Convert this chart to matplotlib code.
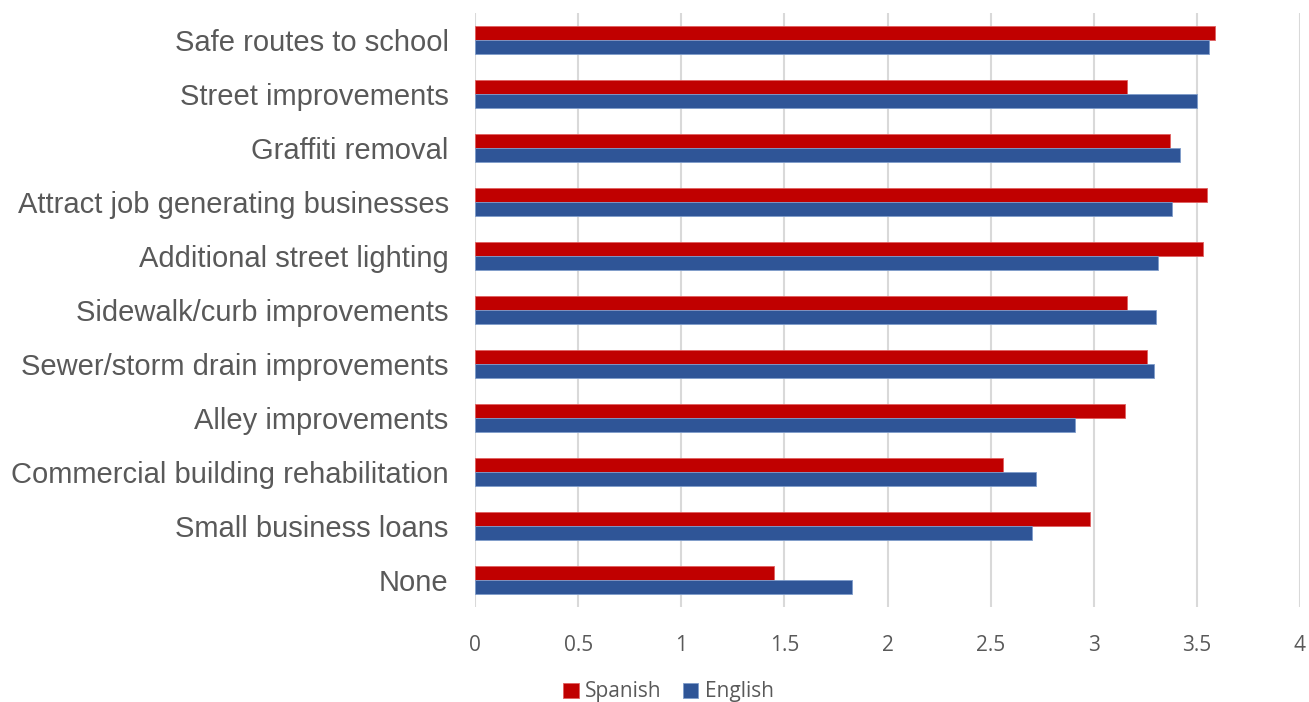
import matplotlib
matplotlib.use('Agg')
import matplotlib.pyplot as plt
import numpy as np

categories = ['Safe routes to school', 'Street improvements', 'Graffiti removal',
              'Attract job generating businesses', 'Additional street lighting',
              'Sidewalk/curb improvements', 'Sewer/storm drain improvements',
              'Alley improvements', 'Commercial building rehabilitation',
              'Small business loans', 'None']
spanish = [3.59, 3.16, 3.37, 3.55, 3.53, 3.16, 3.26, 3.15, 2.56, 2.98, 1.45]
english = [3.56, 3.50, 3.42, 3.38, 3.31, 3.30, 3.29, 2.91, 2.72, 2.70, 1.83]
xticks = [0, 0.5, 1, 1.5, 2, 2.5, 3, 3.5, 4]
xticklabels = ['0', '0.5', '1', '1.5', '2', '2.5', '3', '3.5', '4']

txt = '#595959'

fig = plt.figure(figsize=(13.09, 7.02), dpi=100)
ax = fig.add_axes([0.3629, 0.1353, 0.6302, 0.8462])

y = np.arange(len(categories))
h = 0.26
ax.barh(y - h / 2, spanish, height=h, color='#C00000', edgecolor='#E06060',
        linewidth=0.6, label='Spanish', zorder=3)
ax.barh(y + h / 2, english, height=h, color='#2F5597', edgecolor='#7F9CCB',
        linewidth=0.6, label='English', zorder=3)

ax.set_ylim(len(categories) - 0.5, -0.5)
ax.set_xlim(0, 4)
ax.set_yticks(y)
ax.set_yticklabels(categories, fontsize=21, color=txt, family='Liberation Sans')
ax.set_xticks(xticks)
ax.set_xticklabels(xticklabels, fontsize=15, color=txt, family='Open Sans')
ax.tick_params(axis='y', length=0, pad=19)
ax.tick_params(axis='x', length=0, pad=20)

ax.grid(axis='x', color='#d9d9d9', linewidth=1.5, zorder=0)
for s in ax.spines.values():
    s.set_visible(False)

leg = fig.legend(loc='center', bbox_to_anchor=(0.5107, 0.0143), ncol=2, frameon=False,
                 prop={'family': 'Open Sans', 'size': 15}, handlelength=0.75,
                 handleheight=0.75, handletextpad=0.3, columnspacing=1.0)
for t in leg.get_texts():
    t.set_color(txt)

fig.savefig('out.png', dpi=100)
